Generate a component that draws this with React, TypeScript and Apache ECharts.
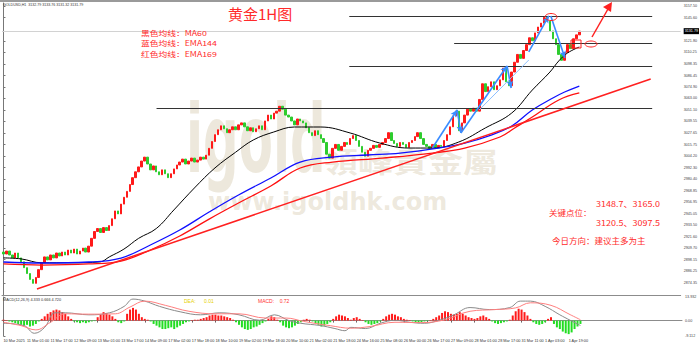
import React, { useEffect, useRef } from "react";
import * as echarts from "echarts";

// ---------- data ----------
const closes = [
  2904, 2907, 2903, 2900, 2905, 2900, 2896, 2890, 2884, 2878,
  2874, 2880, 2888, 2895, 2901, 2898, 2903, 2900, 2905, 2902,
  2906, 2903, 2908, 2905, 2909, 2904, 2907, 2910, 2906, 2912,
  2920, 2927, 2930, 2926, 2931, 2928, 2933, 2940, 2948, 2945,
  2955, 2962, 2968, 2975, 2982, 2988, 2993, 2999, 3003, 2996,
  2990, 2994, 2988, 2985, 2990, 2986, 2982, 2986, 2991, 2995,
  2998, 3001, 2996, 2999, 3002, 2998, 3000, 3003, 3001, 3005,
  3012, 3019, 3026, 3031, 3035, 3032, 3028, 3031, 3034, 3031,
  3036, 3038, 3034, 3030, 3033, 3029, 3032, 3035, 3031, 3040,
  3046, 3042, 3048, 3050, 3055, 3052, 3046, 3044, 3040, 3036,
  3042, 3040, 3038, 3033, 3028, 3025, 3030, 3026, 3022, 3018,
  3006, 3002, 3012, 3016, 3010, 3014, 3018, 3016, 3022, 3025,
  3020, 3014, 3008, 3004, 3010, 3012, 3015, 3013, 3016, 3018,
  3022, 3028, 3020, 3017, 3014, 3018, 3016, 3013, 3018, 3020,
  3024, 3028, 3022, 3016, 3014, 3012, 3016, 3013, 3015, 3014,
  3020, 3026, 3034, 3045, 3050, 3030, 3038, 3046, 3052, 3050,
  3053, 3050, 3062, 3078, 3070, 3075, 3080, 3072, 3076, 3082,
  3094, 3080, 3076, 3090, 3100, 3108, 3104, 3112, 3118, 3125,
  3122, 3130, 3136, 3140, 3146, 3142, 3132, 3124, 3118, 3108,
  3102, 3110, 3118, 3114, 3124, 3128, 3131.79,
];
const firstOpen = 2906;
const lastPrice = 3131.79;

const timeLabels = [
  "10 Mar 2025", "11 Mar 01:00", "11 Mar 17:00", "12 Mar 09:00", "13 Mar 01:00",
  "13 Mar 17:00", "14 Mar 09:00", "17 Mar 02:00", "17 Mar 18:00", "18 Mar 10:00",
  "19 Mar 02:00", "19 Mar 18:00", "20 Mar 10:00", "21 Mar 02:00", "21 Mar 18:00",
  "24 Mar 16:00", "25 Mar 08:00", "26 Mar 00:00", "26 Mar 17:00", "27 Mar 09:00",
  "28 Mar 01:00", "28 Mar 17:00", "31 Mar 11:00", "1 Apr 03:00", "1 Apr 19:00",
];

const priceTicks = [
  3157.5, 3145.6, 3121.8, 3110.25, 3098.35, 3086.45, 3074.9, 3063.0, 3051.1,
  3039.55, 3027.65, 3015.75, 3004.2, 2992.3, 2980.4, 2968.85, 2956.95, 2945.05,
  2933.5, 2921.6, 2909.7, 2898.15, 2886.25, 2874.35,
];
const macdTicks = [13.932, 0, -9.112];

// moving averages: [bar index, price]
const ma60 = [
  [0, 2900], [6, 2899], [13, 2895], [23, 2895], [33, 2896], [36, 2901], [41, 2909],
  [46, 2920], [52, 2930], [58, 2949], [65, 2971.5], [72, 2992], [79, 3008],
  [85, 3020.5], [92, 3028.7], [99, 3033.8], [108, 3033.8], [118, 3027.7],
  [128, 3017.5], [138, 3012.3], [146, 3012.3], [155, 3018.5], [164, 3032.8],
  [173, 3048.1], [180, 3071.6], [186, 3090], [189, 3101.3], [192, 3109.5], [196, 3115.6],
];
const ema144 = [
  [0, 2895.8], [13, 2894.8], [29, 2895.8], [40, 2899.9], [50, 2913.2], [60, 2928.5],
  [70, 2946.9], [80, 2964.3], [91, 2981.7], [101, 2998], [112, 3003.1], [124, 3005.2],
  [135, 3007.2], [148, 3012.3], [157, 3017.4], [166, 3025.6], [173, 3034.8],
  [180, 3051.2], [187, 3063.5], [191, 3069.6], [196, 3075.7],
];
const ema169 = [
  [0, 2893.8], [13, 2892.7], [29, 2893.8], [40, 2896.8], [50, 2908.1], [60, 2922.4],
  [70, 2939.7], [80, 2956.1], [91, 2973.5], [101, 2991.9], [112, 2998], [129, 3002.1],
  [146, 3007.2], [157, 3012.3], [169, 3023.6], [174, 3032.8], [180, 3044],
  [189, 3061.4], [196, 3068.6],
];

const macdHist = [
  0.5, 0.3, -0.5,
  -1, -1.5, -2, -2.5, -3, -2.5, -3.5, -3, -2,
  -0.5,
  1, 2.5, 4, 5, 6, 6.5, 6, 5, 4, 2.5, 1,
  -0.5, -1, -1.5, -1, -1.5, -1, -0.5, -0.3,
  2, 3.5, 5, 4.5, 3.5, 2.5, 1,
  -1, -1.5, -0.5,
  4, 6.5, 7.5, 6.5, 4,
  2, 1, 0.5, -0.5,
  -2, -3, -4, -5, -5, -4.5, -4, -5, -4, -3, -2, -1, -0.5,
  0.3, 0.5, 0.5, 1, 1.5,
  2, 3, 3.5, 3.5, 3, 3, 2.5, 2, 1.5, 0.5,
  -1, -2.5, -4, -5, -5.5, -5, -4, -3.5, -2.5, -1.5, -0.5,
  1, 2.5, 2, 0.5,
  -1, -3, -4, -4.5, -4, -3, -2, -1,
  0.5, 1, 0.5, -0.5,
  -1.5, -2.5, -3.5, -3, -2, -1,
  1, 2.5, 3.5, 3, 2.5, 1.5, 0.5,
  1.5, 2, 1, 0.3,
  -1, -2, -2.5, -2, -1.5, -0.5,
  1, 2.5, 3.5, 4, 3.5, 2.5, 2, 1, 0.5, 0.3,
  -0.5, -1, -1.5, -1, -0.5, -0.3, 0.3,
  1, 2, 3, 4.5, 5.5, 5, 4, 3.5, 4, 5, 4, 3, 2, 1.5, 1,
  1.5, 2.5, 3, 2, 1,
  -0.5, -1.5, -2, -1.5, -1, -0.5, 0.5,
  3, 5.5, 7, 6.5, 5, 3, 1,
  -1, -2, -2.5, -2, -1,
  1, 2,
  -2, -4, -5, -6.5, -7.5, -8, -7, -5, -3.5, -2,
];
const macdLine = [
  [0, -1.6], [7, -3], [10.5, -7.5], [14, -4], [17.5, 4.6], [21, 4.6], [29, 3.4],
  [36, 4.6], [41, 8.4], [44, 12.7], [48, 11.5], [53, 8.4], [60, 5.2], [67, 3.4],
  [73.5, 4.6], [80, 3.4], [87, 0.2], [92, 3.4], [97, 0], [101, -1.6], [107.5, -2.9],
  [112.6, -4.7], [116, -6], [118, -4], [123, -4.7], [128, -1.6], [133, 0.2],
  [138, -1], [143, -1.6], [148, 0.2], [153, 3.4], [158.5, 7.7], [165, 6.5],
  [172, 7.7], [175.6, 11.5], [179, 11.5], [184, 8.4], [189, 3.4], [192.5, 0.2], [196, -2.9],
];
const signalLine = [
  [0, -1], [6, -3], [11, -5.5], [16, -1], [21, 4], [29, 3.8], [38, 4], [43, 8],
  [48, 11.5], [55, 9], [63, 5.5], [72, 4], [80, 4], [89, 1.5], [96, 1.5], [102, -0.5],
  [111, -3], [118, -4.5], [124.5, -3.5], [133, -1], [142, -1.2], [150, 0.5],
  [158.5, 5.5], [167, 6.5], [174, 7.5], [179, 10.5], [186, 9], [192.5, 3.5], [196, 0.5],
];

// drawn annotations, in [bar index, price]
const levelLines = [
  [[117.7, 3147.5], [220.8, 3147.5]],
  [[153.4, 3119.0], [220.8, 3119.0]],
  [[117.7, 3095.5], [220.8, 3095.5]],
  [[52.1, 3053.2], [220.8, 3053.2]],
];
const trendLine = [[11.4, 2868.2], [220.3, 3082.8]];
const blueArrows = [
  [[146.0, 3012.3], [154.4, 3051.2]],
  [[154.4, 3051.2], [155.7, 3027.7]],
  [[155.7, 3027.7], [171.4, 3096.2]],
  [[171.4, 3096.2], [172.8, 3073.7]],
  [[178.8, 3110.5], [185.6, 3147.3]],
  [[186.3, 3147.3], [191.1, 3104.3]],
];
const thinBlue = [[[161.9, 3051.2], [178.8, 3102.3]]];

// ---------- chart ----------
const N = 231;
const RED = "#ff1a1a";
const GREEN = "#2ecc2e";
const TXT = "#ff2a2a";
const CJK = "'Noto Sans CJK SC', 'Noto Sans', sans-serif";
const AX = "'Liberation Sans', 'DejaVu Sans', sans-serif";
const WM = "rgba(196,180,138,0.3)";

function buildOption(): any {
  const cats = Array.from({ length: N }, (_, i) => String(i));
  const candles = closes.map((c, i) => {
    const o = i === 0 ? firstOpen : closes[i - 1];
    return [o, c, Math.min(o, c), Math.max(o, c)];
  });
  const showIdx = (i: number) => i % 8 === 0 && i / 8 < timeLabels.length;
  const seg = (pairs: number[][][], color: string, width: number, arrow: boolean) =>
    pairs.map((p) => [
      { coord: p[0], symbol: "none" },
      { coord: p[1], symbol: arrow ? "arrow" : "none", symbolSize: arrow ? [5, 7] : 0, lineStyle: { color, width, type: "solid" } },
    ]);
  // red notes: glyphs a touch wider than tall so stacked lines keep clear boxes
  const red = (text: string, x: number, y: number, fontSize: number, sx: number, sy: number) => ({
    type: "text", x, y, z: 60, scaleX: sx, scaleY: sy,
    style: { text, fontSize, lineHeight: fontSize, fill: TXT, fontFamily: CJK },
  });

  return {
    animation: false,
    backgroundColor: "#ffffff",
    grid: [
      { left: 2, right: 18, top: 3, bottom: 51 },
      { left: 2, right: 18, top: 297, bottom: 10 },
    ],
    xAxis: [
      { type: "category", gridIndex: 0, data: cats, boundaryGap: true,
        axisLine: { show: true, lineStyle: { color: "#8c8c8c" } }, axisTick: { show: false },
        axisLabel: { show: false }, splitLine: { show: false } },
      { type: "category", gridIndex: 1, data: cats, boundaryGap: true,
        axisLine: { show: true, lineStyle: { color: "#8c8c8c" } },
        axisTick: { show: true, interval: (i: number) => showIdx(i), length: 2, alignWithLabel: true, lineStyle: { color: "#666" } },
        axisLabel: { show: true, interval: (i: number) => showIdx(i), showMinLabel: true, hideOverlap: false,
          formatter: (_v: string, i: number) => (showIdx(i) ? timeLabels[i / 8] : ""),
          fontSize: 3.8, color: "#333", align: "left", margin: 3, fontFamily: AX },
        splitLine: { show: false } },
      { type: "value", gridIndex: 0, min: -0.5, max: N - 0.5, show: false },
      { type: "value", gridIndex: 1, min: -0.5, max: N - 0.5, show: false },
    ],
    yAxis: [
      { type: "value", gridIndex: 0, position: "right", min: 2862.08, max: 3160.57,
        splitLine: { show: false },
        axisLine: { show: true, lineStyle: { color: "#777" } },
        axisTick: { show: true, customValues: priceTicks, length: 2, lineStyle: { color: "#777" } },
        axisLabel: { show: true, customValues: priceTicks, formatter: (v: number) => v.toFixed(2), fontSize: 3.7, color: "#444", margin: 3, fontFamily: AX } },
      { type: "value", gridIndex: 1, position: "right", min: -9.112, max: 13.932,
        splitLine: { show: false },
        axisLine: { show: true, lineStyle: { color: "#777" } },
        axisTick: { show: true, customValues: macdTicks, length: 2, lineStyle: { color: "#777" } },
        axisLabel: { show: true, customValues: macdTicks, formatter: (v: number) => (v === 0 ? "0.00" : v.toFixed(3)), fontSize: 3.7, color: "#444", margin: 3, fontFamily: AX } },
    ],
    series: [
      { type: "candlestick", xAxisIndex: 0, yAxisIndex: 0, data: candles, barWidth: 2,
        itemStyle: { color: RED, color0: GREEN, borderColor: RED, borderColor0: GREEN, borderWidth: 1 },
        markLine: { silent: true, symbol: "none", animation: false,
          data: [{ yAxis: lastPrice }],
          lineStyle: { color: "#d2d2d2", width: 1, type: "solid" },
          label: { show: true, position: "end", formatter: lastPrice.toFixed(2), backgroundColor: "#000", color: "#fff",
            fontSize: 3.7, padding: [1, 1], distance: 3, fontFamily: AX } } },
      { type: "line", xAxisIndex: 2, yAxisIndex: 0, data: ma60, smooth: 0.4, showSymbol: false, lineStyle: { color: "#000", width: 1 }, z: 3 },
      { type: "line", xAxisIndex: 2, yAxisIndex: 0, data: ema144, smooth: 0.4, showSymbol: false, lineStyle: { color: "#1010ff", width: 1.3 }, z: 3 },
      { type: "line", xAxisIndex: 2, yAxisIndex: 0, data: ema169, smooth: 0.4, showSymbol: false, lineStyle: { color: "#ff1010", width: 1.3 }, z: 3 },
      { type: "line", xAxisIndex: 2, yAxisIndex: 0, data: [], z: 4,
        markLine: { silent: true, animation: false, label: { show: false },
          data: [
            ...seg(levelLines, "#333", 1, false),
            ...seg([trendLine], "#ff2020", 1.5, false),
            ...seg(blueArrows, "#3a8cff", 1.6, true),
            ...seg(thinBlue, "#8ec0ff", 1, false),
          ] } },
      { type: "bar", xAxisIndex: 1, yAxisIndex: 1, barWidth: 2,
        data: macdHist.map((v) => ({ value: v, itemStyle: { color: v >= 0 ? RED : "#22dd22" } })) },
      { type: "line", xAxisIndex: 3, yAxisIndex: 1, data: macdLine, smooth: 0.4, showSymbol: false, lineStyle: { color: "#8a8a8a", width: 1 } },
      { type: "line", xAxisIndex: 3, yAxisIndex: 1, data: signalLine, smooth: 0.4, showSymbol: false, lineStyle: { color: "#ff7f7f", width: 1 } },
    ],
    graphic: [
      { type: "rect", left: 0, top: 0, shape: { width: 700, height: 2 }, style: { fill: "#9a9a9a" }, z: 50 },
      // watermark
      { type: "text", x: 186, y: 92, scaleX: 0.53, z: -1, style: { text: "igold", fontSize: 94, fontWeight: "bold", fontFamily: "DejaVu Sans", fill: WM } },
      { type: "text", x: 323, y: 147, scaleY: 0.8, z: -1, style: { text: "領峰貴金屬", fontSize: 35, lineHeight: 35, fontWeight: "bold", fontFamily: "'Noto Sans CJK TC', sans-serif", fill: WM } },
      { type: "text", x: 208, y: 190, z: -1, style: { text: "www.igoldhk.com", fontSize: 24, lineHeight: 24, fontWeight: "bold", fontFamily: "DejaVu Sans", fill: WM } },
      // header
      { type: "text", x: 3, y: 3, z: 60, style: { text: "GOLDUSD,H1  3132.79 3133.76 3131.32 3131.79", fontSize: 3.6, fill: "#333", fontFamily: AX } },
      { type: "text", x: 3, y: 298, z: 60, style: { text: "MACD(12,26,9) 4.333 0.666 4.720", fontSize: 3.8, fill: "#333", fontFamily: AX } },
      { type: "text", x: 184, y: 298, z: 60, style: { text: "DEA:      0.01", fontSize: 5, fill: "#e6d000", fontFamily: AX } },
      { type: "text", x: 258, y: 298, z: 60, style: { text: "MACD:    0.72", fontSize: 5, fill: "#ff3030", fontFamily: AX } },
      // titles
      { type: "text", x: 228, y: 6, z: 60, style: { text: "黄金1H图", fontSize: 15, fill: TXT, fontFamily: CJK } },
      red("黑色均线：MA60", 141, 29.5, 7.6, 1.15, 0.92),
      red("蓝色均线：EMA144", 141, 39.8, 7.6, 1.15, 0.92),
      red("红色均线：EMA169", 141, 50.1, 7.6, 1.15, 0.92),
      red("3148.7、3165.0", 596, 199.5, 8.5, 1.06, 0.95),
      red("关键点位：", 549, 209, 8, 1.06, 0.95),
      red("3120.5、3097.5", 596, 218, 8.5, 1.06, 0.95),
      red("今日方向：建议主多为主", 552, 235.5, 8.5, 1, 1),
      // drawn marks
      { type: "ellipse", z: 60, shape: { cx: 551, cy: 17, rx: 6, ry: 3.5 }, style: { fill: "none", stroke: "#ff2020", lineWidth: 1 } },
      { type: "rect", z: 60, shape: { x: 571, y: 40, width: 10, height: 8 }, style: { fill: "none", stroke: "#ff2020", lineWidth: 1 } },
      { type: "ellipse", z: 60, shape: { cx: 591, cy: 44, rx: 6, ry: 3 }, style: { fill: "none", stroke: "#ff2020", lineWidth: 1 } },
      { type: "line", z: 60, shape: { x1: 592, y1: 37, x2: 608, y2: 9 }, style: { stroke: "#ff2020", lineWidth: 1.5 } },
      { type: "polygon", z: 60, shape: { points: [[612, 2], [611, 12], [603, 7]] }, style: { fill: "#ff2020" } },
    ],
  };
}

export default function App() {
  const ref = useRef<HTMLDivElement>(null);
  useEffect(() => {
    document.body.style.margin = "0";
    const chart = echarts.init(ref.current!, null, { renderer: "svg" });
    chart.setOption(buildOption());
    return () => chart.dispose();
  }, []);
  return <div ref={ref} style={{ width: 700, height: 346, position: "absolute", left: 0, top: 0, background: "#fff" }} />;
}
